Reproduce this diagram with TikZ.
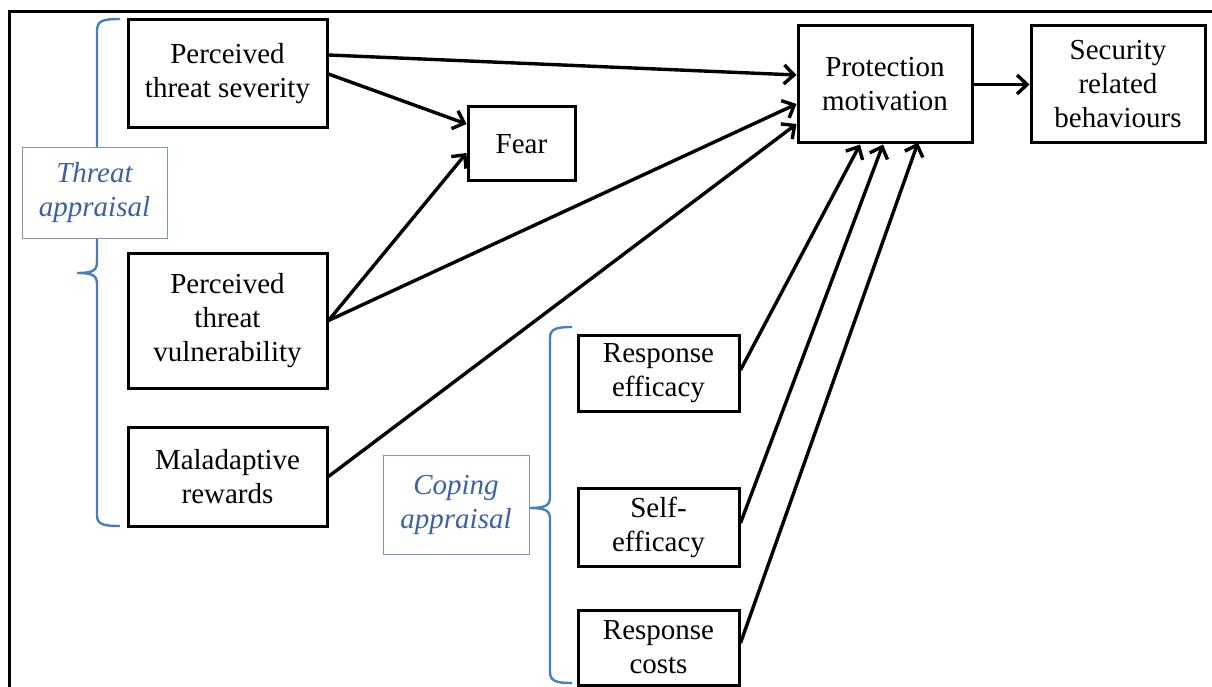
\documentclass[tikz,border=0pt]{standalone}
\usepackage{fontspec}
\setmainfont{Liberation Serif}
\usetikzlibrary{arrows.meta}
\definecolor{bracecol}{RGB}{74,126,187}
\definecolor{labeltext}{RGB}{62,98,160}
\definecolor{labelframe}{RGB}{125,150,178}
\begin{document}
\begin{tikzpicture}[x=1pt,y=-1pt,
  every node/.style={font=\fontsize{29}{34}\selectfont, align=center, inner sep=0pt},
  box/.style={draw=black, line width=3pt, fill=white},
  applabel/.style={draw=labelframe, line width=1pt, fill=white, text=labeltext,
                   font=\fontsize{29}{34}\selectfont\itshape},
  brace/.style={draw=bracecol, line width=2.4pt},
  link/.style={draw=black, line width=3.4pt, -{Straight Barb[length=10pt,width=19pt,line width=3.4pt]}}]
\useasboundingbox (0,0) rectangle (1212,687);

% outer frame (left and top edges only)
\draw[line width=3pt] (9,687) -- (9,12) -- (1212,12);

% braces grouping the appraisal factors
\draw[brace] (120,19) .. controls (102,19) and (97,21) .. (97,31) -- (97,262)
  .. controls (97,271) and (92,273) .. (77,273)
  .. controls (92,273) and (97,275) .. (97,284) -- (97,515)
  .. controls (97,524) and (102,526) .. (120,526);
\draw[brace] (572,327) .. controls (556,327) and (550,329) .. (550,338) -- (550,497)
  .. controls (550,506) and (545,508) .. (528,508)
  .. controls (545,508) and (550,510) .. (550,519) -- (550,672)
  .. controls (550,681) and (556,683) .. (572,683);

% appraisal labels
\node[applabel, minimum width=145pt, minimum height=90pt] (ta) at (94.5,193) {Threat\\appraisal};
\node[applabel, minimum width=146pt, minimum height=99pt] (ca) at (456,504.5) {Coping\\appraisal};

% factor boxes
\node[box, minimum width=199pt, minimum height=108pt] (pts) at (227.5,74) {Perceived\\threat severity};
\node[box, minimum width=199pt, minimum height=135pt] (ptv) at (227.5,320.5) {Perceived\\threat\\vulnerability};
\node[box, minimum width=199pt, minimum height=99pt] (mr) at (227.5,476.5) {Maladaptive\\rewards};
\node[box, minimum width=107pt, minimum height=74pt] (fear) at (521.5,144) {Fear};
\node[box, minimum width=174pt, minimum height=117pt] (pm) at (885,84.5) {Protection\\motivation};
\node[box, minimum width=174pt, minimum height=117pt] (srb) at (1118,84.5) {Security\\related\\behaviours};
\node[box, minimum width=161pt, minimum height=76pt] (re) at (658.5,373) {Response\\efficacy};
\node[box, minimum width=161pt, minimum height=78pt] (se) at (658.5,527) {Self-\\efficacy};
\node[box, minimum width=161pt, minimum height=75pt] (rc) at (658.5,647.5) {Response\\costs};

% connectors
\draw[link] ([yshift=19pt]pts.east) -- ([yshift=9.5pt]pm.west);
\draw[link] (pts.east) -- ([yshift=20pt]fear.west);
\draw[link] (ptv.east) -- ([yshift=-9pt]fear.west);
\draw[link] (ptv.east) -- ([yshift=-19.5pt]pm.west);
\draw[link] (mr.east) -- ([yshift=-39.5pt]pm.west);
\draw[link] ([yshift=3pt]re.east) -- ([xshift=-25pt]pm.south);
\draw[link] ([yshift=4pt]se.east) -- ([xshift=-2pt]pm.south);
\draw[link] ([yshift=4.5pt]rc.east) -- ([xshift=33pt,yshift=2pt]pm.south);
\draw[link] (pm.east) -- (srb.west);
\end{tikzpicture}
\end{document}
